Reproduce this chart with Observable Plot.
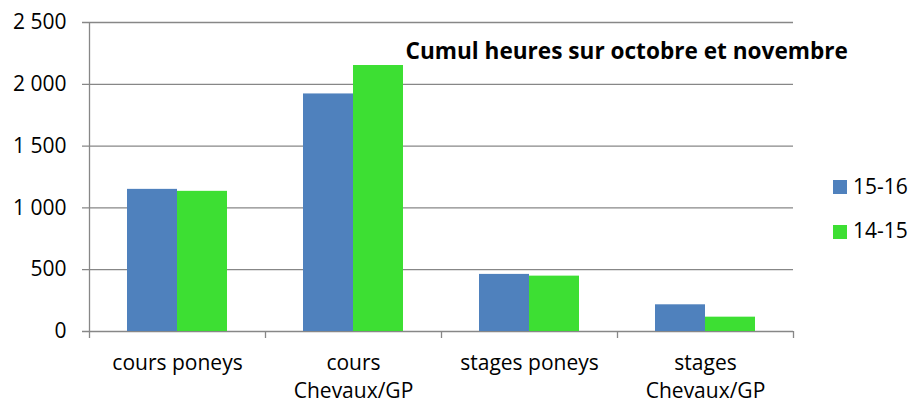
<!DOCTYPE html>
<html><head><meta charset="utf-8">
<script src="https://cdn.jsdelivr.net/npm/d3@7"></script>
<script src="https://cdn.jsdelivr.net/npm/@observablehq/plot@0.6"></script>
<style>
body{margin:0;background:#fff;}
#wrap{position:relative;width:911px;height:403px;font-family:"Open Sans",sans-serif;}
.sw{position:absolute;width:14px;height:14px;}
.lt{position:absolute;font-size:21px;line-height:21px;color:#000;white-space:nowrap;}
</style></head><body><div id="wrap"></div>
<script>
const categories = ["cours poneys", "cours\nChevaux/GP", "stages poneys", "stages\nChevaux/GP"];
const series = ["15-16", "14-15"];
const values1516 = [1150, 1922, 462, 216];
const values1415 = [1134, 2152, 448, 116];
const yTicks = [0, 500, 1000, 1500, 2000, 2500];
const colors = ["#4F81BD", "#3DDF33"];
const title = "Cumul heures sur octobre et novembre";

const rows = categories.flatMap((c, i) => [
  {category: c, series: series[0], value: values1516[i]},
  {category: c, series: series[1], value: values1415[i]}
]);

const W = 911, H = 403, mL = 89, mR = 118, mT = 22, mB = 72;
const bw = (W - mL - mR) / categories.length;
const barW = 50, outer = (bw - 2 * barW) / 2;
const grid = "#878787";
const loc = d3.formatLocale({decimal: ",", thousands: " ", grouping: [3], currency: ["", ""]});
const fmt = loc.format(",");

const chart = Plot.plot({
  width: W, height: H,
  marginLeft: mL, marginRight: mR, marginTop: mT, marginBottom: mB,
  style: {fontFamily: '"Open Sans", sans-serif', fontSize: "21px", color: "#000", background: "#fff"},
  x: {domain: categories, paddingInner: 0, paddingOuter: 0},
  y: {domain: [0, 2500]},
  color: {domain: series, range: colors},
  marks: [
    Plot.ruleY(yTicks, {stroke: grid, strokeWidth: 1.3, insetLeft: -7}),
    Plot.barY(rows.filter(d => d.series === series[0]), {x: "category", y: "value", fill: "series", insetLeft: outer, insetRight: outer + barW}),
    Plot.barY(rows.filter(d => d.series === series[1]), {x: "category", y: "value", fill: "series", insetLeft: outer + barW, insetRight: outer}),
    Plot.ruleX([categories[0]], {x: d => d, dx: -bw / 2, y1: 2500, y2: 0, insetBottom: -7, stroke: grid, strokeWidth: 1.3}),
    Plot.ruleX(categories.slice(1), {x: d => d, dx: -bw / 2, y1: 0, y2: 0, insetBottom: -7, stroke: grid, strokeWidth: 1.3}),
    Plot.ruleX([categories[categories.length - 1]], {x: d => d, dx: bw / 2, y1: 0, y2: 0, insetBottom: -7, stroke: grid, strokeWidth: 1.3}),
    Plot.axisY(yTicks, {tickSize: 0, tickPadding: 23, tickFormat: fmt, label: null}),
    Plot.axisX({tickSize: 0, tickPadding: 18, label: null, lineHeight: 1.36}),
    Plot.text([title], {frameAnchor: "top-left", dx: 316, dy: 20, textAnchor: "start", fontWeight: "bold", fontSize: 22.6})
  ]
});
const wrap = document.getElementById("wrap");
wrap.appendChild(chart);

series.forEach((s, i) => {
  const sw = document.createElement("div");
  sw.className = "sw";
  sw.style.left = "833px";
  sw.style.top = (180 + i * 45) + "px";
  sw.style.background = colors[i];
  wrap.appendChild(sw);
  const t = document.createElement("div");
  t.className = "lt";
  t.style.left = "853px";
  t.style.top = (176 + i * 44) + "px";
  t.textContent = s;
  wrap.appendChild(t);
});
</script></body></html>
